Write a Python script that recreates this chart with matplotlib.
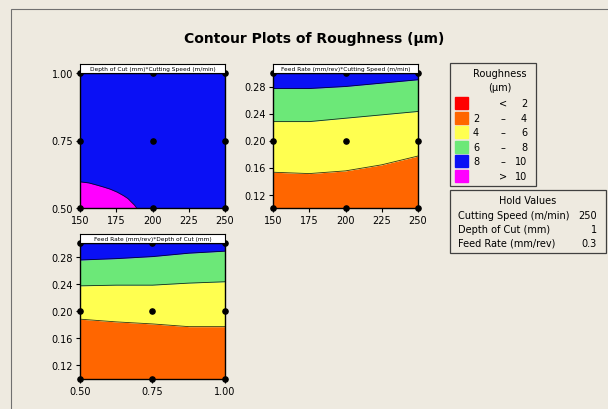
import numpy as np
import matplotlib.pyplot as plt
from matplotlib.patches import Rectangle

# Step 1: Data
# Design points of the experiment
speed_levels = [150, 200, 250]
depth_levels = [0.50, 0.75, 1.00]
feed_levels = [0.10, 0.20, 0.30]

# Depth of Cut vs Cutting Speed: edge of the > 10 region
magenta_speed = [150, 156, 161.5, 166, 170.7, 175.5, 179.9, 183, 185.6, 187.5, 189]
magenta_depth = [0.597, 0.593, 0.585, 0.578, 0.570, 0.559, 0.546, 0.535, 0.521, 0.511, 0.50]

# Feed Rate vs Cutting Speed: contour lines at 4, 6, 8
fs_speed = [150, 175, 200, 225, 250]
fs_level4 = [0.153, 0.151, 0.155, 0.164, 0.177]
fs_level6 = [0.228, 0.228, 0.233, 0.238, 0.243]
fs_level8 = [0.277, 0.277, 0.280, 0.285, 0.290]

# Feed Rate vs Depth of Cut: contour lines at 4, 6, 8
fd_depth = [0.50, 0.625, 0.75, 0.875, 1.00]
fd_level4 = [0.188, 0.184, 0.181, 0.177, 0.177]
fd_level6 = [0.237, 0.238, 0.238, 0.241, 0.243]
fd_level8 = [0.275, 0.277, 0.280, 0.285, 0.288]

legend_labels = [('', '<', '2'), ('2', '–', '4'), ('4', '–', '6'),
                 ('6', '–', '8'), ('8', '–', '10'), ('', '>', '10')]
legend_colors = ['#FF0000', '#FF6600', '#FFFF50', '#6CE878', '#0A10F5', '#FF00FF']
hold_names = ['Cutting Speed (m/min)', 'Depth of Cut (mm)', 'Feed Rate (mm/rev)']
hold_values = ['250', '1', '0.3']

BG = '#EEEAE0'
W, H = 608, 410

fig = plt.figure(figsize=(W / 100, H / 100), dpi=100, facecolor=BG)


def px_axes(left, top, right, bottom):
    return fig.add_axes([left / W, 1 - bottom / H, (right - left) / W, (bottom - top) / H])


def panel(left, top, right, bottom, title):
    ax = px_axes(left, top, right, bottom)
    strip = px_axes(left, top - 9, right, top)
    strip.set_facecolor('white')
    strip.set_xticks([])
    strip.set_yticks([])
    for s in strip.spines.values():
        s.set_linewidth(0.8)
    strip.text(0.5, 0.45, title, ha='center', va='center', fontsize=4.2)
    ax.tick_params(direction='out', length=3, width=0.8, labelsize=7, pad=2)
    for s in ax.spines.values():
        s.set_linewidth(1.0)
    return ax


def dots(ax, xs, ys):
    gx, gy = np.meshgrid(xs, ys)
    ax.scatter(gx.ravel(), gy.ravel(), s=14, color='black', zorder=10, clip_on=False)


def bands(ax, x, b4, b6, b8, ymin, ymax):
    ax.fill_between(x, ymin, b4, color=legend_colors[1], lw=0)
    ax.fill_between(x, b4, b6, color=legend_colors[2], lw=0)
    ax.fill_between(x, b6, b8, color=legend_colors[3], lw=0)
    ax.fill_between(x, b8, ymax, color=legend_colors[4], lw=0)
    for b in (b4, b6, b8):
        ax.plot(x, b, color='black', lw=0.6, alpha=0.8)


# Step 2: Depth of Cut * Cutting Speed
ax1 = panel(80, 74, 225, 209, 'Depth of Cut (mm)*Cutting Speed (m/min)')
ax1.fill_between([150, 250], 0.5, 1.0, color=legend_colors[4], lw=0)
ax1.fill_between(magenta_speed, 0.5, magenta_depth, color=legend_colors[5], lw=0)
ax1.plot(magenta_speed, magenta_depth, color='black', lw=0.6, alpha=0.8)
ax1.set_xlim(150, 250)
ax1.set_ylim(0.5, 1.0)
ax1.set_xticks([150, 175, 200, 225, 250])
ax1.set_yticks([0.50, 0.75, 1.00])
ax1.set_yticklabels(['0.50', '0.75', '1.00'])
dots(ax1, speed_levels, depth_levels)

# Step 3: Feed Rate * Cutting Speed
ax2 = panel(273, 74, 418, 209, 'Feed Rate (mm/rev)*Cutting Speed (m/min)')
bands(ax2, fs_speed, fs_level4, fs_level6, fs_level8, 0.10, 0.30)
ax2.set_xlim(150, 250)
ax2.set_ylim(0.10, 0.30)
ax2.set_xticks([150, 175, 200, 225, 250])
ax2.set_yticks([0.12, 0.16, 0.20, 0.24, 0.28])
ax2.set_yticklabels(['0.12', '0.16', '0.20', '0.24', '0.28'])
dots(ax2, speed_levels, feed_levels)

# Step 4: Feed Rate * Depth of Cut
ax3 = panel(80, 244, 225, 380, 'Feed Rate (mm/rev)*Depth of Cut (mm)')
bands(ax3, fd_depth, fd_level4, fd_level6, fd_level8, 0.10, 0.30)
ax3.set_xlim(0.5, 1.0)
ax3.set_ylim(0.10, 0.30)
ax3.set_xticks([0.50, 0.75, 1.00])
ax3.set_xticklabels(['0.50', '0.75', '1.00'])
ax3.set_yticks([0.12, 0.16, 0.20, 0.24, 0.28])
ax3.set_yticklabels(['0.12', '0.16', '0.20', '0.24', '0.28'])
dots(ax3, depth_levels, feed_levels)

# Step 5: Title, frame, legend and hold values
fig.text(314 / W, 1 - 39 / H, 'Contour Plots of Roughness (µm)', ha='center', va='center',
         fontsize=10, fontweight='bold')


def fx(x):
    return x / W


def fy(y):
    return 1 - y / H


fig.patches.append(Rectangle((fx(10.5), fy(700)), (W) / W, fy(9.5) - fy(700), fill=False,
                             ec='#707070', lw=0.8, transform=fig.transFigure))

fig.patches.append(Rectangle((fx(450), fy(187)), 86 / W, 123 / H, fill=False,
                             ec='#404040', lw=0.9, transform=fig.transFigure))
fig.text(fx(500), fy(74), 'Roughness', ha='center', va='center', fontsize=7)
fig.text(fx(500), fy(88), '(µm)', ha='center', va='center', fontsize=7)
for i, ((lo, sym, hi), c) in enumerate(zip(legend_labels, legend_colors)):
    yc = 104 + i * 14.6
    fig.patches.append(Rectangle((fx(455), fy(yc + 6)), 13 / W, 12 / H, color=c,
                                 transform=fig.transFigure))
    fig.text(fx(473), fy(yc), lo, ha='left', va='center', fontsize=7)
    fig.text(fx(503), fy(yc), sym, ha='center', va='center', fontsize=7)
    fig.text(fx(527), fy(yc), hi, ha='right', va='center', fontsize=7)

fig.patches.append(Rectangle((fx(450), fy(254)), 156 / W, 63 / H, fill=False,
                             ec='#404040', lw=0.9, transform=fig.transFigure))
fig.text(fx(528), fy(201), 'Hold Values', ha='center', va='center', fontsize=7)
for i, (name, val) in enumerate(zip(hold_names, hold_values)):
    yc = 216 + i * 14
    fig.text(fx(458), fy(yc), name, ha='left', va='center', fontsize=7)
    fig.text(fx(597), fy(yc), val, ha='right', va='center', fontsize=7)

plt.savefig('out.png', dpi=100, facecolor=BG)
